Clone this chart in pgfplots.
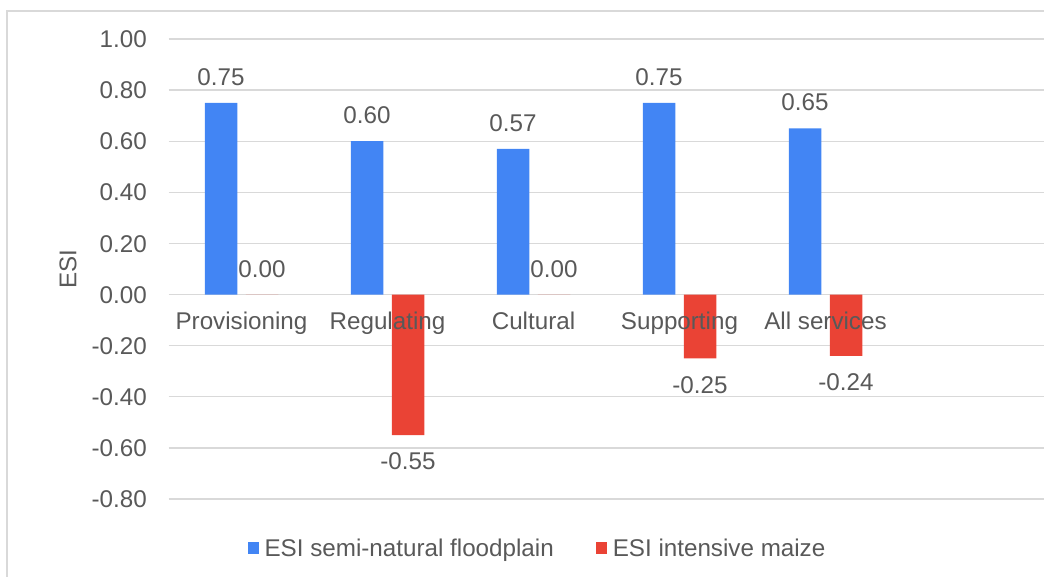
\documentclass[border=0pt]{standalone}
\usepackage{pgfplots}
\pgfplotsset{compat=1.18}
\usepackage{fontspec}
\setmainfont{Liberation Sans}
\definecolor{sblue}{HTML}{4285F4}
\definecolor{sred}{HTML}{EA4335}
\definecolor{gridc}{HTML}{D9D9D9}
\definecolor{txt}{HTML}{595959}
\newcommand{\cf}{\fontsize{24.2}{29}\selectfont}
\pgfplotsset{
  geom/.style={at={(168.5pt,77pt)}, anchor=south west,
    width=876pt, height=460pt, scale only axis,
    xmin=-0.5, xmax=5.5, ymin=-0.8, ymax=1.0,
    axis line style={draw=none}, major tick length=0pt, tick style={draw=none}},
}
\begin{document}
\begin{tikzpicture}
\draw[gridc, line width=1.3pt] (7pt,-10pt) -- (7pt,565pt) -- (1060pt,565pt);
\begin{axis}[
  geom,
  ytick={-0.8,-0.6,-0.4,-0.2,0,0.2,0.4,0.6,0.8,1.0},
  xtick={0,1,2,3,4}, xticklabels={},
  ymajorgrids, grid style={gridc, line width=1.3pt},
  /pgf/number format/assume math mode=true,
  yticklabel style={/pgf/number format/.cd, fixed, fixed zerofill, precision=2, /tikz/.cd,
    font=\cf, text=txt, inner sep=0pt, xshift=-21.5pt, text height=17.3pt, text depth=0pt},
  ylabel={ESI},
  every axis y label/.style={at={(rel axis cs:0,0.5)}, xshift=-100.5pt, rotate=90,
    anchor=center, font=\cf, text=txt},
  ybar, bar width=32.5pt,
  nodes near coords={\pgfmathprintnumber[fixed,fixed zerofill,precision=2]{\pgfplotspointmeta}},
  nodes near coords align=vertical,
  every node near coord/.append style={font=\cf, text=txt, inner sep=0pt, outer sep=17.5pt,
    text height=17.3pt, text depth=0pt},
  legend style={at={(0.4212,-0.1065)}, anchor=center, draw=none, fill=none,
    legend columns=2, font=\cf, text=txt,
    /tikz/every odd column/.append style={column sep=4pt},
    /tikz/every even column/.append style={column sep=40pt}},
  legend image code/.code={\fill[#1] (0pt,-6pt) rectangle (11pt,6pt);},
]
\addplot[fill=sblue, draw=none, bar shift=-20.5pt] coordinates {(0,0.75) (1,0.60) (2,0.57) (3,0.75) (4,0.65)};
\addplot[fill=sred, draw=none, bar shift=20.5pt] coordinates {(0,0) (1,-0.55) (2,0) (3,-0.25) (4,-0.24)};
\legend{ESI semi-natural floodplain, ESI intensive maize}
\end{axis}
\begin{axis}[
  geom,
  ytick=\empty,
  xtick={0,1,2,3,4},
  xticklabels={Provisioning,Regulating,Cultural,Supporting,All services},
  xticklabel style={font=\cf, text=txt, inner sep=0pt, anchor=north, yshift=187pt,
    text height=17.3pt, text depth=5pt},
]
\end{axis}
\pgfresetboundingbox
\useasboundingbox (0pt,0pt) rectangle (1044pt,576pt);
\end{tikzpicture}
\end{document}
